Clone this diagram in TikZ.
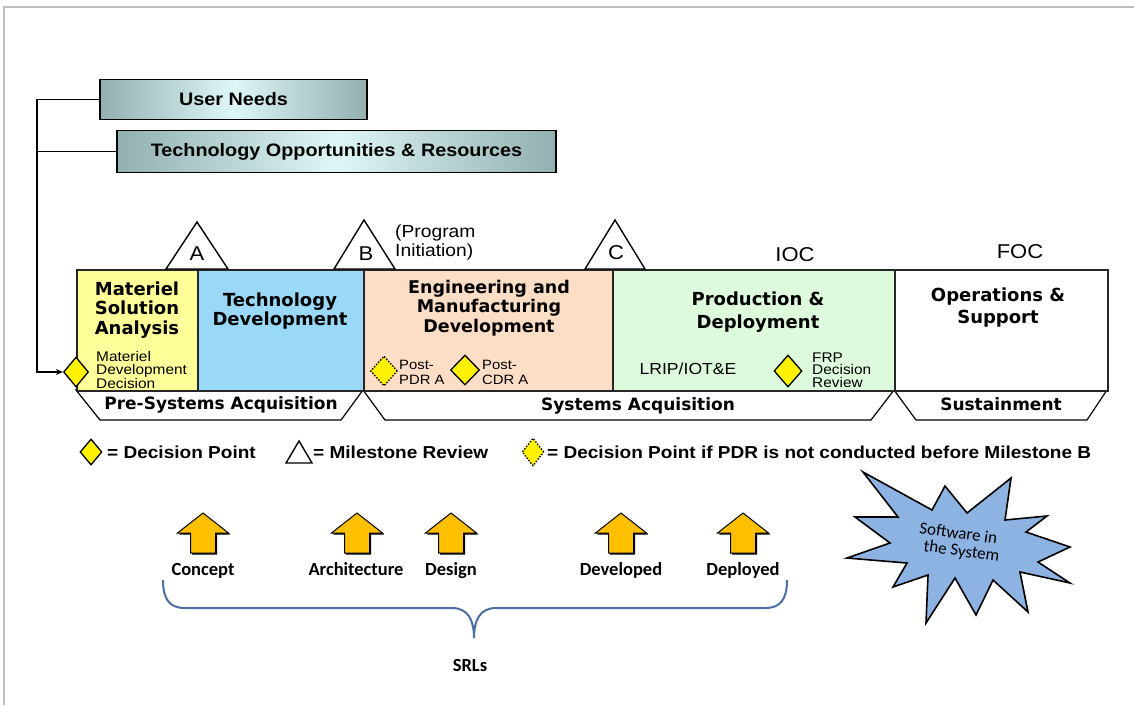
\documentclass[tikz,border=0pt]{standalone}
\usepackage{fontspec}
\setmainfont{Liberation Sans}
\newfontfamily\arl{Liberation Sans}[FakeStretch=1.1]
\newfontfamily\vrd{DejaVu Sans}
\newfontfamily\cbr{Carlito}
\usetikzlibrary{shapes.geometric,arrows.meta}
\definecolor{msacol}{RGB}{255,255,153}
\definecolor{tdcol}{RGB}{153,217,247}
\definecolor{emdcol}{RGB}{252,222,198}
\definecolor{pdcol}{RGB}{221,250,221}
\definecolor{gold}{RGB}{255,192,0}
\definecolor{starblue}{RGB}{141,179,226}
\definecolor{braceblue}{RGB}{74,111,160}
\definecolor{boxedge}{RGB}{146,176,176}
\definecolor{boxmid}{RGB}{222,246,246}
\definecolor{framegray}{RGB}{190,190,190}
\newcommand\fsz[2]{\fontsize{#1}{#2}\selectfont}
\begin{document}
\begin{tikzpicture}[x=1pt,y=-1pt,
  needbox/.style={draw=black,line width=1.6pt,left color=boxedge,right color=boxedge,middle color=boxmid,minimum height=40pt,inner sep=0pt,font=\arl\bfseries\fsz{18}{20}},
  phase/.style={draw=black!85,line width=1.6pt,minimum height=121pt,inner sep=0pt,anchor=north west},
  ptitle/.style={font=\vrd\bfseries\fsz{18}{19.5},align=center,inner sep=0pt},
  small/.style={font=\arl\fsz{14}{12.5},align=left,inner sep=0pt,anchor=west},
  dpoint/.style={diamond,draw=black,line width=1.3pt,fill=yellow,inner sep=0pt,minimum width=27pt,minimum height=31pt},
  dpdash/.style={dpoint,dash pattern=on 1.5pt off 1.5pt},
  mile/.style={draw=black,line width=1.4pt,fill=white,line join=miter},
  band/.style={draw=black,line width=1.2pt,fill=white},
  bandtext/.style={font=\vrd\bfseries\fsz{17}{19},inner sep=0pt},
  legtext/.style={font=\arl\bfseries\fsz{17.3}{19},inner sep=0pt,anchor=west},
  srl/.style={font=\cbr\bfseries\fsz{18.5}{20},inner sep=0pt,anchor=base},
  startext/.style={font=\cbr\fsz{17}{19},rotate=-8,inner sep=0pt},
  letter/.style={font=\arl\fsz{20}{22},inner sep=0pt},
  uparr/.pic={
    \fill[black] (1.6,1.6) -- (27.1,21.6) -- (14.1,21.6) -- (14.1,41.6) -- (-10.9,41.6) -- (-10.9,21.6) -- (-23.9,21.6) -- cycle;
    \draw[fill=gold,line width=1pt,line join=miter] (0,0) -- (25.5,20) -- (12.5,20) -- (12.5,40) -- (-12.5,40) -- (-12.5,20) -- (-25.5,20) -- cycle;
  },
]
\useasboundingbox (0,0) rectangle (1134,705);
% frame
\draw[framegray,line width=2pt] (4,705) -- (4,7) -- (1134,7);

% top boxes
\node[needbox,minimum width=267pt] (un) at (233.5,99.5) {User Needs};
\node[needbox,minimum width=439pt,minimum height=42pt] (tor) at (336.5,151.5) {Technology Opportunities \& Resources};

% bottom band
\draw[band] (76,390) -- (100,420) -- (341,420) -- (363,390) -- cycle;
\draw[band] (363,390) -- (385,420) -- (871,420) -- (894,390) -- cycle;
\draw[band] (894,390) -- (916,420) -- (1087,420) -- (1107,390) -- cycle;
\node[bandtext] (pre) at (221,405) {Pre-Systems Acquisition};
\node[bandtext] (sys) at (638,406) {Systems Acquisition};
\node[bandtext] (sus) at (1001,404) {Sustainment};

% phase boxes
\node[phase,fill=msacol,minimum width=121pt] (msa) at (76,269) {};
\node[phase,fill=tdcol,minimum width=166pt] (td) at (197,269) {};
\node[phase,fill=emdcol,minimum width=249pt] (emd) at (363,269) {};
\node[phase,fill=pdcol,minimum width=282pt] (pd) at (612,269) {};
\node[phase,fill=white,minimum width=213pt] (os) at (894,269) {};

\node[ptitle] (msat) at (137,310) {Materiel\\Solution\\Analysis};
\node[ptitle] (tdt) at (280,311) {Technology\\Development};
\node[ptitle,font=\vrd\bfseries\fsz{17.5}{19.5}] (emdt) at (489,308) {Engineering and\\Manufacturing\\Development};
\node[ptitle,font=\vrd\bfseries\fsz{18}{23}] (pdt) at (758,312) {Production \&\\Deployment};
\node[ptitle,font=\vrd\bfseries\fsz{18}{22}] (ost) at (998,308) {Operations \&\\Support};

% milestones
\draw[mile] (166,269) -- (197,222) -- (228,269) -- cycle;
\draw[mile] (334,269) -- (364,220) -- (395,269) -- cycle;
\draw[mile] (585,269) -- (615,220) -- (645,269) -- cycle;
\node[letter] (ma) at (197,254) {A};
\node[letter] (mb) at (366,254) {B};
\node[letter] (mc) at (616,253) {C};
\node[font=\arl\fsz{17.5}{19},align=left,inner sep=0pt,anchor=west] (pi) at (395,242) {(Program\\Initiation)};
\node[letter] (ioc) at (795,255) {IOC};
\node[letter] (foc) at (1020,252) {FOC};

% decision points
\node[dpoint,minimum width=25pt,minimum height=30pt] (mdd) at (76,372) {};
\node[small] (mddt) at (96,370) {Materiel\\Development\\Decision};
\node[dpdash,minimum width=27pt,minimum height=30pt] (pdr) at (384,371) {};
\node[small,font=\arl\fsz{13.5}{15}] (pdrt) at (399,372) {Post-\\PDR A};
\node[dpoint,minimum width=29pt,minimum height=30pt] (cdr) at (465,370) {};
\node[small,font=\arl\fsz{13.5}{15}] (cdrt) at (482,372) {Post-\\CDR A};
\node[font=\arl\fsz{16}{18},inner sep=0pt] (lrip) at (688,369) {LRIP/IOT\&E};
\node[dpoint,minimum width=28pt,minimum height=32pt] (frp) at (788,371) {};
\node[small] (frpt) at (812,370) {FRP\\Decision\\Review};

% connector
\coordinate (cn) at (37,0);
\draw[line width=1.5pt] (un.west) -- (un.west -| cn) |- (mdd.west) [-{Stealth[length=7pt,width=6pt]}];
\draw[line width=1.5pt] (tor.west) -- (tor.west -| cn);

% legend
\node[dpoint,minimum width=22pt,minimum height=26pt] (ld1) at (91,452) {};
\node[legtext] (lt1) at (107,452) {= Decision Point};
\draw[mile] (286,463) -- (299,441) -- (312,463) -- cycle;
\node[legtext] (lt2) at (313,452) {= Milestone Review};
\node[dpdash,minimum width=22pt,minimum height=28pt] (ld3) at (533,452) {};
\node[legtext] (lt3) at (547,452) {= Decision Point if PDR is not conducted before Milestone B};

% SRL arrows
\pic (a1) at (203,513) {uparr};
\pic (a2) at (357,513) {uparr};
\pic (a3) at (451,513) {uparr};
\pic (a4) at (621,513) {uparr};
\pic (a5) at (743,513) {uparr};
\node[srl] (l1) at (203,575) {Concept};
\node[srl] (l2) at (356,575) {Architecture};
\node[srl] (l3) at (451,575) {Design};
\node[srl] (l4) at (621,575) {Developed};
\node[srl] (l5) at (743,575) {Deployed};

% brace
\draw[braceblue,line width=2pt] (163,580) .. controls (163,600) and (170,608) .. (185,608) -- (452,608)
  .. controls (468,608) and (474,620) .. (474,638) .. controls (474,620) and (480,608) .. (496,608)
  -- (765,608) .. controls (780,608) and (787,600) .. (787,580);
\node[srl] (srls) at (470,671) {SRLs};

% star
\draw[fill=starblue,line width=1.6pt,line join=miter]
  (863,472) -- (932,510) -- (945,486) -- (967,513) -- (1011,478) -- (1005,520) -- (1047,516)
  -- (1026,532) -- (1070,547) -- (1038,562) -- (1070,583) -- (1020,572) -- (1028,612)
  -- (993,580) -- (976,615) -- (955,578) -- (926,623) -- (928,575) -- (893,587)
  -- (907,563) -- (847,558) -- (890,543) -- (855,517) -- (898,517) -- cycle;
\node[startext] (sw1) at (958.5,533) {Software in};
\node[startext] (sw2) at (961.5,552) {the System};
\end{tikzpicture}
\end{document}
